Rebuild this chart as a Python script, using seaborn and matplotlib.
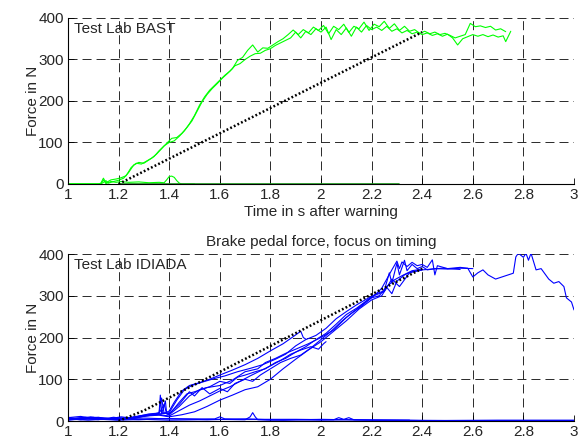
import numpy as np
import pandas as pd
import matplotlib
matplotlib.use('Agg')
import matplotlib.pyplot as plt
import seaborn as sns

# ---- data (time in s, force in N) ----
x_ticks = [1.0, 1.2, 1.4, 1.6, 1.8, 2.0, 2.2, 2.4, 2.6, 2.8, 3.0]
x_tick_labels = ['1', '1.2', '1.4', '1.6', '1.8', '2', '2.2', '2.4', '2.6', '2.8', '3']
y_ticks = [0, 100, 200, 300, 400]

# Test Lab BAST
bast_a = [(1.00, 0), (1.12, 0), (1.13, 2), (1.14, 14), (1.15, 3), (1.17, 10), (1.19, 12),
          (1.21, 15), (1.23, 20), (1.25, 40), (1.27, 50), (1.29, 48), (1.31, 55), (1.33, 62),
          (1.35, 72), (1.37, 85), (1.39, 98), (1.41, 110), (1.43, 112), (1.45, 122),
          (1.47, 136), (1.49, 152), (1.51, 175), (1.53, 198), (1.55, 216), (1.57, 230),
          (1.59, 242), (1.61, 255), (1.63, 266), (1.65, 278), (1.67, 298), (1.69, 305),
          (1.71, 322), (1.73, 335), (1.75, 318), (1.77, 328), (1.79, 327), (1.81, 335),
          (1.83, 343), (1.85, 350), (1.87, 360), (1.89, 371), (1.91, 360), (1.93, 372),
          (1.95, 364), (1.97, 378), (1.99, 370), (2.01, 382), (2.03, 362), (2.05, 380),
          (2.07, 372), (2.09, 385), (2.11, 365), (2.13, 380), (2.15, 374), (2.17, 390),
          (2.19, 370), (2.21, 385), (2.23, 379), (2.25, 392), (2.27, 375), (2.29, 386),
          (2.31, 370), (2.33, 380), (2.35, 368), (2.37, 372), (2.39, 363), (2.41, 368),
          (2.43, 362), (2.45, 366), (2.47, 360), (2.49, 363), (2.51, 358), (2.53, 352),
          (2.55, 356), (2.57, 360), (2.59, 387), (2.61, 379), (2.63, 381), (2.65, 377),
          (2.67, 380), (2.69, 371), (2.71, 374), (2.73, 367)]
bast_b = [(1.00, 0), (1.13, 0), (1.15, 8), (1.16, 2), (1.18, 6), (1.20, 9), (1.22, 14),
          (1.24, 28), (1.26, 46), (1.28, 52), (1.30, 50), (1.32, 58), (1.34, 66), (1.36, 80),
          (1.38, 92), (1.40, 100), (1.42, 104), (1.44, 115), (1.46, 128), (1.48, 145),
          (1.50, 165), (1.52, 190), (1.54, 210), (1.56, 226), (1.58, 238), (1.60, 250),
          (1.62, 262), (1.64, 272), (1.66, 285), (1.68, 290), (1.70, 300), (1.72, 308),
          (1.74, 314), (1.76, 315), (1.78, 322), (1.80, 326), (1.82, 334), (1.84, 340),
          (1.86, 346), (1.88, 352), (1.90, 366), (1.92, 352), (1.94, 368), (1.96, 360),
          (1.98, 374), (2.00, 366), (2.02, 378), (2.04, 348), (2.06, 372), (2.08, 360),
          (2.10, 376), (2.12, 356), (2.14, 378), (2.16, 366), (2.18, 382), (2.20, 372),
          (2.22, 378), (2.24, 370), (2.26, 380), (2.28, 368), (2.30, 374), (2.32, 364),
          (2.34, 370), (2.36, 362), (2.38, 366), (2.40, 360), (2.42, 364), (2.44, 358),
          (2.46, 362), (2.48, 356), (2.50, 361), (2.52, 352), (2.54, 335), (2.56, 350),
          (2.58, 355), (2.60, 360), (2.62, 356), (2.64, 360), (2.66, 355), (2.68, 359),
          (2.70, 354), (2.72, 357), (2.73, 343), (2.75, 368)]
bast_c = [(1.00, 0), (1.13, 0), (1.14, 10), (1.15, 1), (1.17, 6), (1.19, 4), (1.21, 6),
          (1.24, 4), (1.28, 5), (1.32, 3), (1.36, 4), (1.38, 3), (1.39, 10), (1.40, 18),
          (1.41, 19), (1.42, 16), (1.43, 8), (1.44, 2), (1.45, 0), (1.50, 0)]
bast_zero = [(1.20, 0), (2.31, 0)]
bast_ideal_t = [1.2, 2.4]
bast_ideal_f = [0, 366]

# Test Lab IDIADA
idiada_r1 = [(1.00, 5), (1.05, 8), (1.10, 4), (1.15, 7), (1.20, 3), (1.25, 9), (1.30, 14),
             (1.35, 16), (1.38, 18), (1.40, 24), (1.42, 45), (1.45, 72), (1.48, 85),
             (1.52, 92), (1.56, 100), (1.60, 110), (1.65, 122), (1.70, 135), (1.75, 150),
             (1.80, 168), (1.85, 185), (1.89, 202), (1.92, 215), (1.93, 200), (1.94, 196)]
idiada_r2 = [(1.00, 9), (1.04, 5), (1.09, 10), (1.14, 4), (1.19, 8), (1.24, 6), (1.29, 12),
             (1.33, 15), (1.36, 20), (1.37, 55), (1.38, 18), (1.40, 20), (1.43, 50),
             (1.46, 75), (1.49, 85), (1.53, 93), (1.58, 102), (1.62, 108), (1.67, 118),
             (1.72, 126), (1.77, 135), (1.82, 148), (1.86, 160), (1.90, 180), (1.94, 195),
             (1.98, 205), (2.02, 222), (2.06, 245), (2.10, 262), (2.14, 278), (2.18, 292),
             (2.22, 305), (2.25, 312), (2.27, 355), (2.28, 330), (2.30, 378), (2.31, 350),
             (2.33, 385), (2.34, 360), (2.36, 375), (2.38, 365), (2.40, 370), (2.42, 362),
             (2.45, 365), (2.50, 364), (2.55, 366), (2.60, 365)]
idiada_r3 = [(1.00, 3), (1.06, 7), (1.12, 3), (1.18, 9), (1.23, 5), (1.28, 11), (1.33, 16),
             (1.36, 18), (1.38, 40), (1.39, 17), (1.40, 15), (1.44, 35), (1.48, 60),
             (1.52, 75), (1.56, 82), (1.60, 95), (1.64, 90), (1.67, 105), (1.70, 110),
             (1.74, 118), (1.78, 125), (1.82, 140), (1.86, 150), (1.90, 165), (1.94, 178),
             (1.98, 195), (2.02, 210), (2.06, 232), (2.10, 255), (2.14, 270), (2.18, 288),
             (2.21, 300), (2.24, 318), (2.26, 340), (2.28, 362), (2.30, 383), (2.31, 365),
             (2.32, 381), (2.34, 370), (2.36, 380), (2.38, 372), (2.40, 375), (2.42, 368),
             (2.44, 386), (2.45, 350), (2.46, 372), (2.50, 365), (2.55, 368), (2.58, 366),
             (2.60, 345), (2.62, 355), (2.64, 362), (2.66, 350), (2.69, 340), (2.73, 348),
             (2.76, 354), (2.77, 393), (2.78, 402), (2.80, 392), (2.81, 402), (2.82, 385),
             (2.83, 402), (2.85, 362), (2.87, 365), (2.90, 340), (2.92, 330), (2.94, 334),
             (2.96, 322), (2.97, 295), (2.99, 285), (3.00, 266)]
idiada_r4 = [(1.00, 6), (1.05, 3), (1.11, 8), (1.16, 5), (1.21, 10), (1.26, 6), (1.31, 13),
             (1.36, 15), (1.40, 12), (1.44, 25), (1.48, 38), (1.52, 48), (1.56, 60),
             (1.60, 72), (1.64, 82), (1.68, 95), (1.72, 108), (1.76, 120), (1.80, 132),
             (1.84, 145), (1.88, 160), (1.92, 170), (1.96, 178), (1.99, 172), (2.01, 185),
             (2.02, 190)]
idiada_r5 = [(1.00, 4), (1.07, 9), (1.13, 6), (1.19, 3), (1.25, 8), (1.31, 12), (1.36, 14),
             (1.40, 10), (1.45, 15), (1.50, 22), (1.55, 35), (1.60, 50), (1.65, 62),
             (1.70, 75), (1.75, 82), (1.80, 100), (1.85, 125), (1.90, 148), (1.95, 170),
             (2.00, 190), (2.05, 215), (2.10, 240), (2.15, 268), (2.20, 290), (2.24, 300),
             (2.26, 320), (2.28, 305), (2.30, 335), (2.33, 350), (2.36, 358), (2.40, 362),
             (2.48, 366), (2.55, 363)]
idiada_r6 = [(1.00, 7), (1.05, 4), (1.10, 9), (1.16, 6), (1.22, 4), (1.27, 10), (1.32, 17),
             (1.36, 19), (1.365, 62), (1.37, 20), (1.40, 18), (1.44, 40), (1.48, 70),
             (1.50, 60), (1.53, 80), (1.56, 65), (1.60, 78), (1.63, 70), (1.66, 90),
             (1.70, 100), (1.73, 95), (1.76, 110), (1.80, 125), (1.84, 140), (1.88, 150),
             (1.92, 158), (1.96, 175), (2.00, 195), (2.04, 215), (2.08, 238), (2.12, 258),
             (2.16, 275), (2.20, 295), (2.23, 300), (2.26, 322), (2.29, 338), (2.32, 348),
             (2.36, 360), (2.40, 364)]
idiada_r7 = [(1.00, 2), (1.06, 6), (1.12, 9), (1.17, 4), (1.22, 7), (1.28, 9), (1.33, 14),
             (1.37, 17), (1.385, 48), (1.39, 18), (1.40, 15), (1.44, 45), (1.47, 65),
             (1.50, 70), (1.55, 80), (1.60, 85), (1.65, 98), (1.70, 118), (1.75, 125),
             (1.78, 140), (1.82, 150), (1.86, 162), (1.90, 172), (1.95, 185), (2.00, 200),
             (2.05, 218), (2.10, 248), (2.15, 272), (2.20, 298), (2.25, 310), (2.28, 340),
             (2.31, 322), (2.35, 355), (2.40, 362)]
idiada_flat1 = [(1.00, 3), (1.10, 5), (1.20, 2), (1.30, 4), (1.40, 2), (1.50, 3), (1.60, 4),
                (1.70, 3), (1.72, 10), (1.73, 20), (1.74, 10), (1.75, 3), (1.80, 2), (1.90, 3),
                (2.00, 2), (2.10, 3), (2.20, 2), (2.35, 2), (2.50, 1), (3.00, 1)]
idiada_flat2 = [(1.00, 8), (1.05, 11), (1.10, 6), (1.20, 5), (1.30, 7), (1.40, 5), (1.58, 5),
                (1.60, 10), (1.62, 5), (1.70, 4), (1.90, 4), (2.05, 3), (2.07, 8), (2.09, 4),
                (2.11, 8), (2.13, 3), (2.35, 2)]
idiada_flat3 = [(1.00, 0), (3.00, 0)]
idiada_flat4 = [(1.00, 5), (1.08, 2), (1.18, 6), (1.28, 3), (1.40, 6), (1.55, 3), (1.70, 5),
                (1.85, 2), (2.00, 4), (2.20, 2), (2.40, 1), (2.70, 2), (3.00, 2)]
idiada_ideal_t = [1.2, 1.3, 2.4]
idiada_ideal_f = [0, 25, 365]


def long_frame(runs):
    rows = []
    for name, pts in runs.items():
        for t, f in pts:
            rows.append({'run': name, 't': t, 'f': f})
    return pd.DataFrame(rows)


bast_df = long_frame({'a': bast_a, 'b': bast_b, 'c': bast_c})
idiada_df = long_frame({'r1': idiada_r1, 'r2': idiada_r2, 'r3': idiada_r3, 'r4': idiada_r4,
                        'r5': idiada_r5, 'r6': idiada_r6, 'r7': idiada_r7,
                        'f1': idiada_flat1, 'f2': idiada_flat2, 'f3': idiada_flat3,
                        'f4': idiada_flat4})
bast_zero_df = long_frame({'z': bast_zero})

sns.set_style('white')
plt.rcParams['font.family'] = ['Liberation Sans', 'DejaVu Sans']
plt.rcParams['font.size'] = 11
plt.rcParams['lines.scale_dashes'] = False

fig = plt.figure(figsize=(5.83, 4.44), dpi=100)
ax1 = fig.add_axes([0.1166, 0.5856, 0.868, 0.3739])
ax2 = fig.add_axes([0.1166, 0.0518, 0.868, 0.3761])

sns.lineplot(data=bast_df, x='t', y='f', units='run', estimator=None, sort=False,
             color='#00ff00', linewidth=0.8, ax=ax1, legend=False)
sns.lineplot(data=bast_zero_df, x='t', y='f', units='run', estimator=None, sort=False,
             color='#1a9a1a', linewidth=1.2, ax=ax1, legend=False)
sns.lineplot(x=bast_ideal_t, y=bast_ideal_f, color='black', linewidth=1.8,
             linestyle=(0, (1.3, 1.6)), ax=ax1)

sns.lineplot(data=idiada_df, x='t', y='f', units='run', estimator=None, sort=False,
             color='#0000ff', linewidth=0.8, ax=ax2, legend=False)
sns.lineplot(x=idiada_ideal_t, y=idiada_ideal_f, color='black', linewidth=1.8,
             linestyle=(0, (1.3, 1.6)), ax=ax2)

for ax, lab in [(ax1, 'Test Lab BAST'), (ax2, 'Test Lab IDIADA')]:
    ax.set_xlim(1, 3)
    ax.set_ylim(0, 400)
    ax.set_xticks(x_ticks)
    ax.set_xticklabels(x_tick_labels)
    ax.set_yticks(y_ticks)
    ax.set_axisbelow(True)
    ax.grid(True, color='#1a1a1a', linewidth=0.65, linestyle=(0, (6.5, 3.6)))
    ax.spines['top'].set_visible(False)
    ax.spines['right'].set_visible(False)
    for s in ['left', 'bottom']:
        ax.spines[s].set_color('black')
        ax.spines[s].set_linewidth(0.8)
    ax.tick_params(direction='in', length=4, width=0.6, color='black', labelsize=11,
                   bottom=True, left=True, pad=3)
    ax.set_ylabel('Force in N', fontsize=11, labelpad=-1)
    ax.set_xlabel('')
    ax.text(0.012, 0.975, lab, transform=ax.transAxes, ha='left', va='top', fontsize=11)

ax1.set_xlabel('Time in s after warning', fontsize=11, labelpad=2)
ax2.set_title('Brake pedal force, focus on timing', fontsize=11, pad=6)

fig.savefig('out.png', dpi=100)
